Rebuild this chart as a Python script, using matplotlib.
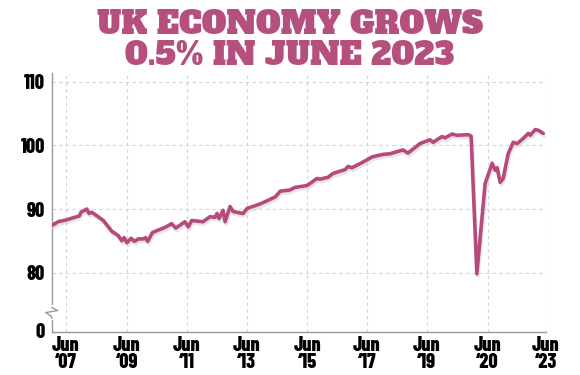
import matplotlib
matplotlib.use("Agg")
import matplotlib.pyplot as plt
import matplotlib.patheffects as pe
from matplotlib import font_manager
import numpy as np

# chart position in months from Jun 2007 (as laid out on the original graphic)
months = [-5.6, -3.0, 0.4, 4.4, 5.4, 6.1, 8.4, 9.3, 10.4, 15.0, 18.4, 21.0, 22.4, 23.3,
          24.4, 26.1, 27.4, 29.0, 31.0, 31.9, 32.7, 34.6, 37.0, 39.6, 42.3, 43.9, 47.6,
          48.9, 50.3, 54.8, 57.6, 59.6, 60.4, 61.2, 62.8, 63.6, 65.6, 66.8, 70.8, 72.4,
          77.6, 83.6, 85.6, 89.5, 91.5, 96.3, 100.3, 101.5, 104.7, 106.7, 111.5, 112.7,
          114.3, 118.7, 122.3, 126.7, 129.5, 134.6, 136.6, 141.4, 145.4, 146.6, 150.2,
          151.4, 154.2, 156.2, 160.6, 161.8, 164.1, 167.4, 170.2, 171.4, 172.2, 173.4,
          174.6, 176.6, 178.6, 180.2, 182.6, 184.6, 185.4, 187.4, 188.6, 190.6]
gdp = [87.4, 88.0, 88.3, 88.8, 88.9, 89.5, 90.0, 89.3, 89.5, 88.2, 86.5, 85.8, 85.0, 85.5,
       84.7, 85.4, 84.9, 85.3, 85.3, 85.5, 84.9, 86.3, 86.7, 87.1, 87.7, 87.0, 88.0,
       87.2, 88.2, 88.0, 88.8, 88.7, 89.3, 88.5, 89.8, 88.0, 90.4, 89.6, 89.3, 90.1,
       90.8, 91.9, 92.8, 93.0, 93.4, 93.7, 94.8, 94.7, 95.0, 95.6, 96.2, 96.7,
       96.5, 97.4, 98.2, 98.6, 98.7, 99.3, 98.8, 100.3, 100.9, 100.5, 101.4,
       101.2, 101.8, 101.6, 101.7, 101.5, 79.8, 94.0, 97.2, 96.1, 96.5, 94.2,
       94.8, 98.7, 100.5, 100.3, 101.1, 101.9, 101.6, 102.5, 102.4, 101.9]

tick_pos = [0, 24.4, 48.3, 72.3, 96.5, 120.2, 144.2, 168.4, 191.7]
tick_labels = ["Jun\n\u201807", "Jun\n\u201809", "Jun\n\u201811", "Jun\n\u201813", "Jun\n\u201815",
               "Jun\n\u201817", "Jun\n\u201819", "Jun\n\u201820", "Jun\n\u201823"]
y_ticks = [70.85, 80, 90, 100, 110]
y_labels = ["0", "80", "90", "100", "110"]

pink = "#b84a7b"
title_pink = "#b5507e"


def pick(names):
    for n in names:
        try:
            font_manager.findfont(font_manager.FontProperties(family=n), fallback_to_default=False)
            return n
        except ValueError:
            pass
    return "DejaVu Sans"


tick_font = pick(["Barlow Condensed", "Asap Condensed", "Archivo Narrow"])
title_font = pick(["Alfa Slab One", "Patua One", "Roboto Slab", "Arvo"])

fig = plt.figure(figsize=(5.8, 3.75), dpi=100)
ax = fig.add_axes([51.7 / 580, 1 - 331.7 / 375, (546 - 51.7) / 580, (331.7 - 73) / 375])

ax.plot(months, gdp, color=pink, lw=2.6, solid_joinstyle="round", solid_capstyle="round",
        path_effects=[pe.SimpleLineShadow(offset=(0.8, -1.8), shadow_color="#cfcfcf", alpha=0.5),
                      pe.Normal()], zorder=3)

ax.set_xlim(-5.6, 191.7)
ax.set_ylim(70.7, 111.4)

ax.set_xticks(tick_pos)
ax.set_xticklabels(tick_labels, family=tick_font, fontweight=800, fontsize=14.5, linespacing=0.88)
ax.set_yticks(y_ticks)
ax.set_yticklabels(y_labels, family=tick_font, fontweight=800, fontsize=14.5)
ax.tick_params(length=0, pad=5)
ax.tick_params(axis="x", pad=3)

for v in [80, 90, 100, 110]:
    ax.axhline(v, color="#d4d4d4", lw=0.8, ls=(0, (3, 3)), zorder=1)
for t in tick_pos:
    ax.axvline(t, color="#d4d4d4", lw=0.8, ls=(0, (3, 3)), zorder=1)

for s in ["top", "right"]:
    ax.spines[s].set_visible(False)
for s in ["left", "bottom"]:
    ax.spines[s].set_color("#9a9a9a")
    ax.spines[s].set_linewidth(1.0)

# axis break on the y axis
yb = (73.3 - 70.7) / (111.4 - 70.7)
ax.plot([0, 0], [yb - 0.012, yb + 0.03], transform=ax.transAxes, color="white", lw=3,
        clip_on=False, zorder=5)
ax.plot([0, 0, -0.012, 0.012, 0, 0], [yb - 0.012, yb - 0.005, yb + 0.01, yb + 0.018, yb + 0.03, yb + 0.03],
        transform=ax.transAxes, color="#9a9a9a", lw=1.0, clip_on=False, zorder=6)

fig.text(0.5, 0.975, "UK ECONOMY GROWS\n0.5% IN JUNE 2023", ha="center", va="top",
         color=title_pink, fontsize=22.5, family=title_font, linespacing=0.95)

fig.savefig("out.png", dpi=100)
